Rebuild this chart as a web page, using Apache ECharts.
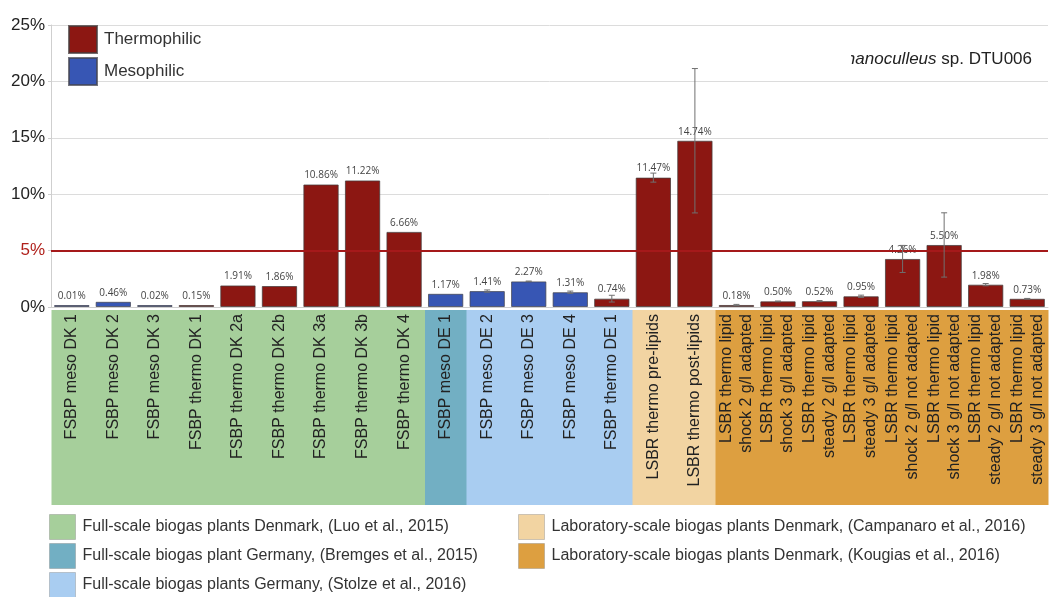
<!DOCTYPE html>
<html>
<head>
<meta charset="utf-8">
<script src="https://cdn.jsdelivr.net/npm/echarts@6/dist/echarts.min.js"></script>
<style>
  html, body { margin: 0; padding: 0; background: #fff; }
  #chart { width: 1057px; height: 597px; }
</style>
</head>
<body>
<div id="chart"></div>
<script>
// Relative abundance of Methanoculleus sp. DTU006 across biogas reactors
const categories = [
  'FSBP meso DK 1', 'FSBP meso DK 2', 'FSBP meso DK 3', 'FSBP thermo DK 1',
  'FSBP thermo DK 2a', 'FSBP thermo DK 2b', 'FSBP thermo DK 3a', 'FSBP thermo DK 3b',
  'FSBP thermo DK 4',
  'FSBP meso DE 1',
  'FSBP meso DE 2', 'FSBP meso DE 3', 'FSBP meso DE 4', 'FSBP thermo DE 1',
  'LSBR thermo pre-lipids', 'LSBR thermo post-lipids',
  'LSBR thermo lipid\nshock 2 g/l adapted', 'LSBR thermo lipid\nshock 3 g/l adapted',
  'LSBR thermo lipid\nsteady 2 g/l adapted', 'LSBR thermo lipid\nsteady 3 g/l adapted',
  'LSBR thermo lipid\nshock 2 g/l not adapted', 'LSBR thermo lipid\nshock 3 g/l not adapted',
  'LSBR thermo lipid\nsteady 2 g/l not adapted', 'LSBR thermo lipid\nsteady 3 g/l not adapted'
];

// abundance (%) and its standard deviation
const abundance = [0.01, 0.46, 0.02, 0.15, 1.91, 1.86, 10.86, 11.22, 6.66,
                   1.17, 1.41, 2.27, 1.31, 0.74, 11.47, 14.74,
                   0.18, 0.50, 0.52, 0.95, 4.26, 5.50, 1.98, 0.73];
const deviation = [0, 0, 0, 0, 0, 0, 0, 0, 0,
                   0, 0.10, 0.03, 0.10, 0.30, 0.40, 6.40,
                   0.05, 0.03, 0.05, 0.10, 1.20, 2.85, 0.10, 0.03];
const regime = ['meso', 'meso', 'meso', 'thermo', 'thermo', 'thermo', 'thermo', 'thermo', 'thermo',
                'meso', 'meso', 'meso', 'meso', 'thermo', 'thermo', 'thermo',
                'thermo', 'thermo', 'thermo', 'thermo', 'thermo', 'thermo', 'thermo', 'thermo'];

// data source of each reactor
const sourceOf = ['luo', 'luo', 'luo', 'luo', 'luo', 'luo', 'luo', 'luo', 'luo',
                  'bremges', 'stolze', 'stolze', 'stolze', 'stolze',
                  'campanaro', 'campanaro',
                  'kougias', 'kougias', 'kougias', 'kougias', 'kougias', 'kougias', 'kougias', 'kougias'];
const sources = [
  { key: 'luo', name: 'Full-scale biogas plants Denmark, (Luo et al., 2015)', color: '#a6cf9b' },
  { key: 'bremges', name: 'Full-scale biogas plant Germany, (Bremges et al., 2015)', color: '#72afc3' },
  { key: 'stolze', name: 'Full-scale biogas plants Germany, (Stolze et al., 2016)', color: '#a9cdf1' },
  { key: 'campanaro', name: 'Laboratory-scale biogas plants Denmark, (Campanaro et al., 2016)', color: '#f2d4a2' },
  { key: 'kougias', name: 'Laboratory-scale biogas plants Denmark, (Kougias et al., 2016)', color: '#dd9f40' }
];

const yTicks = [0, 5, 10, 15, 20, 25];
const threshold = 5;

const THERMO = '#8c1712';
const MESO = '#3756b4';

const chart = echarts.init(document.getElementById('chart'), null, { renderer: 'canvas' });

function bySeries(kind) {
  return abundance.map((v, i) => (regime[i] === kind ? v : '-'));
}

const valueLabel = {
  show: true,
  position: 'top',
  distance: 4,
  fontSize: 10,
  color: '#444',
  fontFamily: 'Open Sans',
  formatter: p => p.value.toFixed(2) + '%'
};

// coloured background bands behind the category labels, one series per data source
const bandSeries = sources.map(s => ({
  name: s.name,
  type: 'custom',
  xAxisIndex: 1,
  yAxisIndex: 1,
  silent: true,
  z: 0,
  itemStyle: { color: s.color },
  data: sourceOf.map((k, i) => [i, 1]).filter(d => sourceOf[d[0]] === s.key),
  renderItem: (params, api) => {
    const idx = api.value(0);
    const top = api.coord([idx, api.value(1)]);
    const base = api.coord([idx, 0]);
    const w = api.size([1, 0])[0];
    return {
      type: 'rect',
      shape: { x: top[0] - w / 2 - 0.5, y: top[1], width: w + 1, height: base[1] - top[1] },
      style: { fill: api.visual('color') }
    };
  }
}));

const sourceLegend = (names, left) => ({
  data: names,
  orient: 'vertical',
  left: left,
  top: 514,
  height: 100,
  padding: 0,
  itemWidth: 26,
  itemHeight: 25,
  itemGap: 3,
  icon: 'rect',
  selectedMode: false,
  itemStyle: { borderColor: 'rgba(120,120,120,0.35)', borderWidth: 1 },
  textStyle: { fontSize: 16, color: '#333', padding: [0, 0, 0, 2] }
});

const option = {
  animation: false,
  backgroundColor: '#fff',
  textStyle: { fontFamily: 'Liberation Sans, Arial, sans-serif' },
  title: {
    text: '{i|Methanoculleus}{n| sp. DTU006}',
    right: 20,
    top: 46,
    textStyle: {
      fontWeight: 'normal',
      rich: {
        i: { fontStyle: 'italic', fontWeight: 'normal', fontSize: 17, color: '#222', fontFamily: 'Liberation Sans' },
        n: { fontWeight: 'normal', fontSize: 17, color: '#222', fontFamily: 'Liberation Sans' }
      }
    }
  },
  graphic: [{
    type: 'rect',
    left: 750,
    top: 44,
    shape: { width: 101, height: 27 },
    style: { fill: '#fff' },
    z: 100,
    silent: true
  }],
  legend: [
    {
      data: ['Thermophilic', 'Mesophilic'],
      orient: 'vertical',
      left: 63,
      top: 20,
      itemWidth: 28,
      itemHeight: 27,
      itemGap: 3,
      icon: 'rect',
      selectedMode: false,
      textStyle: { fontSize: 17, color: '#333', padding: [0, 0, 0, 2] }
    },
    sourceLegend(sources.slice(0, 3).map(s => s.name), 49),
    sourceLegend(sources.slice(3).map(s => s.name), 518)
  ],
  grid: [
    { left: 51, right: 9, top: 25, height: 282 },
    { left: 52, right: 9, top: 310, height: 195 }
  ],
  xAxis: [
    {
      type: 'category',
      gridIndex: 0,
      data: categories,
      z: 10,
      axisLine: { show: true, lineStyle: { color: '#cfcfcf' } },
      axisTick: { show: false },
      axisLabel: {
        interval: 0,
        rotate: 90,
        margin: 7,
        fontSize: 16,
        lineHeight: 20,
        color: '#222'
      }
    },
    {
      type: 'category',
      gridIndex: 1,
      data: categories,
      show: false,
      splitLine: { show: false }
    }
  ],
  yAxis: [
    {
      type: 'value',
      gridIndex: 0,
      min: yTicks[0],
      max: yTicks[yTicks.length - 1],
      interval: 5,
      axisLine: { show: true, lineStyle: { color: '#cfcfcf' } },
      axisTick: { show: true, length: 3, lineStyle: { color: '#cfcfcf' } },
      splitLine: { show: true, lineStyle: { color: '#dcdcdc' } },
      axisLabel: {
        fontSize: 17,
        color: '#222',
        margin: 6,
        formatter: v => (v === threshold ? '{r|' + v + '%}' : v + '%'),
        rich: { r: { fontSize: 17, color: '#b0201b' } }
      }
    },
    {
      type: 'value',
      gridIndex: 1,
      min: 0,
      max: 1,
      show: false,
      splitLine: { show: false }
    }
  ],
  series: [
    {
      name: 'Thermophilic',
      type: 'bar',
      barGap: '-100%',
      barCategoryGap: '15%',
      barMinHeight: 2,
      itemStyle: { color: THERMO, borderColor: 'rgba(70,60,60,0.75)', borderWidth: 1 },
      label: valueLabel,
      data: bySeries('thermo'),
      markLine: {
        silent: true,
        symbol: 'none',
        label: { show: false },
        lineStyle: { color: '#a5191a', width: 2, type: 'solid' },
        data: [{ yAxis: threshold }]
      }
    },
    {
      name: 'Mesophilic',
      type: 'bar',
      barGap: '-100%',
      barCategoryGap: '15%',
      barMinHeight: 2,
      itemStyle: { color: MESO, borderColor: 'rgba(70,70,80,0.75)', borderWidth: 1 },
      label: valueLabel,
      data: bySeries('meso')
    },
    {
      name: 'sd',
      type: 'custom',
      z: 5,
      silent: true,
      data: abundance.map((v, i) => [i, v, deviation[i]]).filter(d => d[2] > 0),
      renderItem: (params, api) => {
        const x = api.value(0);
        const v = api.value(1);
        const e = api.value(2);
        const top = api.coord([x, v + e]);
        const bot = api.coord([x, v - e]);
        const cap = 3;
        const style = { stroke: '#707070', lineWidth: 1 };
        return {
          type: 'group',
          children: [
            { type: 'line', shape: { x1: top[0], y1: top[1], x2: bot[0], y2: bot[1] }, style },
            { type: 'line', shape: { x1: top[0] - cap, y1: top[1], x2: top[0] + cap, y2: top[1] }, style },
            { type: 'line', shape: { x1: bot[0] - cap, y1: bot[1], x2: bot[0] + cap, y2: bot[1] }, style }
          ]
        };
      }
    }
  ].concat(bandSeries)
};

chart.setOption(option);
</script>
</body>
</html>
